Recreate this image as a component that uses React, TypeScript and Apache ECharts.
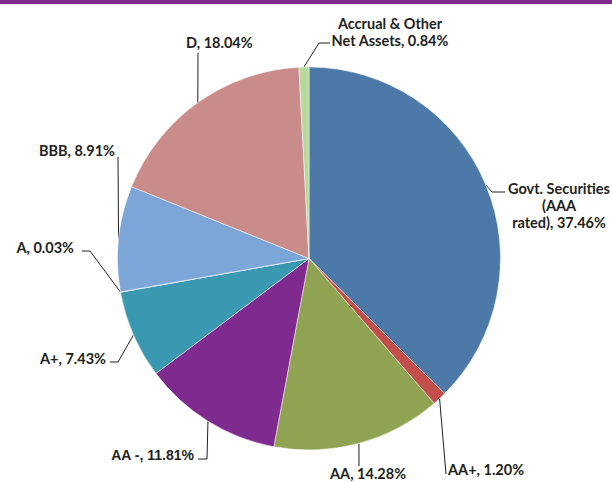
import React, { useEffect, useRef } from "react";
import * as echarts from "echarts";

const categories = [
  "Govt. Securities\n(AAA\nrated)",
  "AA+",
  "AA",
  "AA -",
  "A+",
  "A",
  "BBB",
  "D",
  "Accrual & Other\nNet Assets",
];
const values = [37.46, 1.2, 14.28, 11.81, 7.43, 0.03, 8.91, 18.04, 0.84];
const colors = [
  "#4D79A9",
  "#C24F4C",
  "#8FA353",
  "#7F2A8F",
  "#3A98B0",
  "#3A98B0",
  "#7CA6D8",
  "#C98C8B",
  "#B6D99D",
];

// label placement (layout only)
const labelLayouts = [
  { x: 559, y: 205, align: "center", line: [[492, 192], [505, 192]] },
  { x: 448, y: 469, align: "left", line: [[446, 474]] },
  { x: 330, y: 473.5, align: "left", line: [[359, 466]] },
  { x: 194, y: 455, align: "right", line: [[207, 459], [198, 459]] },
  { x: 106, y: 358, align: "right", line: [[118, 362], [110, 362]] },
  { x: 74, y: 247, align: "right", line: [[90, 251], [82, 251]] },
  { x: 115, y: 150, align: "right", line: [[118, 157]] },
  { x: 186, y: 42.5, align: "left", line: [[198, 53]] },
  { x: 390, y: 31.5, align: "center", line: [[319, 43], [330, 43]] },
];

const CX = 309;
const CY = 258.5;
const R = 191.5;

export default function App() {
  const ref = useRef<HTMLDivElement>(null);
  useEffect(() => {
    document.body.style.margin = "0";
    const chart = echarts.init(ref.current!, null, { renderer: "svg" });
    const total = values.reduce((a, b) => a + b, 0);
    const startPoint = (i: number) => {
      let cum = 0;
      for (let k = 0; k < i; k++) cum += values[k];
      const ang = ((cum + values[i] / 2) / total) * Math.PI * 2;
      return [CX + R * Math.sin(ang), CY - R * Math.cos(ang)];
    };
    chart.setOption({
      animation: false,
      backgroundColor: "#ffffff",
      graphic: [
        {
          type: "rect",
          left: 0,
          top: 0,
          shape: { x: 0, y: 0, width: 612, height: 4 },
          style: { fill: "#7F2A8F" },
        },
      ],
      series: [
        {
          type: "pie",
          center: [CX, CY],
          radius: R,
          startAngle: 90,
          clockwise: true,
          avoidLabelOverlap: false,
          itemStyle: { borderColor: "#ffffff", borderWidth: 0.5 },
          label: {
            show: true,
            position: "outside",
            color: "#231F20",
            fontFamily: "Lato",
            fontWeight: "bold",
            fontSize: 14.5,
            lineHeight: 17,
            formatter: (p: any) => `${p.name}, ${values[p.dataIndex].toFixed(2)}%`,
          },
          labelLine: {
            show: true,
            lineStyle: { color: "#231F20", width: 1 },
          },
          labelLayout: (params: any) => {
            const L = labelLayouts[params.dataIndex];
            const p0 =
              params.labelLinePoints && params.labelLinePoints[0]
                ? params.labelLinePoints[0]
                : startPoint(params.dataIndex);
            return {
              x: L.x,
              y: L.y,
              align: L.align,
              verticalAlign: "middle",
              labelLinePoints: [p0, ...L.line],
            };
          },
          data: categories.map((name, i) => ({
            name,
            value: values[i],
            itemStyle: { color: colors[i] },
            label:
              i === 3
                ? {
                    fontFamily: "Liberation Sans",
                    fontWeight: "bold",
                    fontSize: 14,
                    color: "#231F20",
                  }
                : undefined,
          })),
        },
      ],
    });
    return () => chart.dispose();
  }, []);
  return (
    <div
      ref={ref}
      style={{ position: "absolute", left: 0, top: 0, width: 612, height: 482 }}
    />
  );
}
